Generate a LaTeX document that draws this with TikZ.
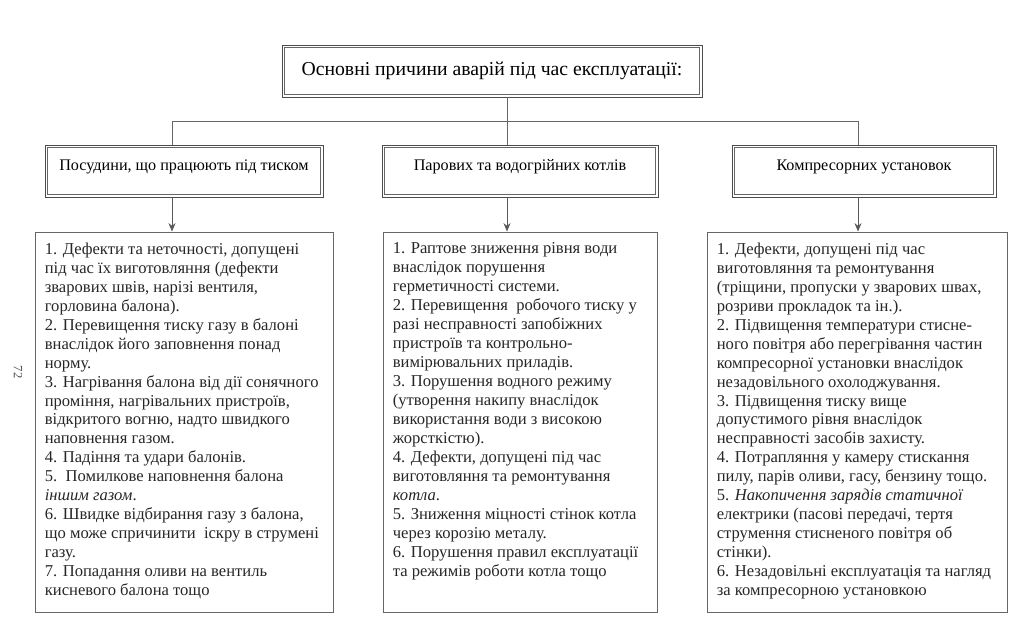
\documentclass[tikz,border=0pt]{standalone}
\usepackage{fontspec}
\setmainfont{Liberation Serif}
\usetikzlibrary{arrows.meta, positioning}

\begin{document}
\begin{tikzpicture}[
    x=0.025cm, y=-0.025cm,
    >={Stealth[length=6pt, width=5pt]},
    twoline/.style={draw=black!70, line width=0.6pt,
        path picture={\draw[black!60, line width=0.5pt] ([shift={(1.6pt,-1.6pt)}]path picture bounding box.north west) rectangle ([shift={(-1.6pt,1.6pt)}]path picture bounding box.south east);}},
    title/.style={twoline, minimum width=10.5cm, minimum height=1.3cm, font=\fontsize{14}{16}\selectfont},
    group/.style={twoline, minimum height=1.3cm, text height=0.3cm, text depth=0.35cm, font=\fontsize{11.5}{14}\selectfont},
    frame/.style={draw=black!60, line width=0.6pt, minimum height=9.5cm},
    causes/.style={anchor=north west, align=left, inner xsep=0.25cm, inner ysep=0.27cm, font=\fontsize{11.8}{13.5}\selectfont, text=black!85},
    link/.style={draw=black!60, line width=0.6pt},
    arr/.style={->, draw=black!65, line width=0.6pt}
]
\useasboundingbox (0,0) rectangle (1034,627);

% Головний блок
\node[title] (top) at (492,71) {Основні причини аварій під час експлуатації:};

% Групи
\node[group, minimum width=6.95cm] (vessels) at (184,171) {Посудини, що працюють під тиском};
\node[group, minimum width=6.9cm] (boilers) at (520,171) {Парових та водогрійних котлів};
\node[group, minimum width=6.6cm] (compressors) at (864,171) {Компресорних установок};

% Рамки з переліками
\node[frame, minimum width=7.45cm] (c1) at (184,422) {};
\node[frame, minimum width=6.85cm] (c2) at (520,422) {};
\node[frame, minimum width=7.5cm] (c3) at (857,422) {};

\node[causes] (t1) at (c1.north west) {1. Дефекти та неточності, допущені\\
під час їх виготовляння (дефекти\\
зварових швів, нарізі вентиля,\\
горловина балона).\\
2. Перевищення тиску газу в балоні\\
внаслідок його заповнення понад\\
норму.\\
3. Нагрівання балона від дії сонячного\\
проміння, нагрівальних пристроїв,\\
відкритого вогню, надто швидкого\\
наповнення газом.\\
4. Падіння та удари балонів.\\
5.\ \ Помилкове наповнення балона\\
\textit{іншим газом}.\\
6. Швидке відбирання газу з балона,\\
що може спричинити\ \ іскру в струмені\\
газу.\\
7. Попадання оливи на вентиль\\
кисневого балона тощо};

\node[causes] (t2) at (c2.north west) {1. Раптове зниження рівня води\\
внаслідок порушення\\
герметичності системи.\\
2. Перевищення\ \ робочого тиску у\\
разі несправності запобіжних\\
пристроїв та контрольно-\\
вимірювальних приладів.\\
3. Порушення водного режиму\\
(утворення накипу внаслідок\\
використання води з високою\\
жорсткістю).\\
4. Дефекти, допущені під час\\
виготовляння та ремонтування\\
\textit{котла}.\\
5. Зниження міцності стінок котла\\
через корозію металу.\\
6. Порушення правил експлуатації\\
та режимів роботи котла тощо};

\node[causes] (t3) at (c3.north west) {1. Дефекти, допущені під час\\
виготовляння та ремонтування\\
(тріщини, пропуски у зварових швах,\\
розриви прокладок та ін.).\\
2. Підвищення температури стисне-\\
ного повітря або перегрівання частин\\
компресорної установки внаслідок\\
незадовільного охолоджування.\\
3. Підвищення тиску вище\\
допустимого рівня внаслідок\\
несправності засобів захисту.\\
4. Потрапляння у камеру стискання\\
пилу, парів оливи, гасу, бензину тощо.\\
5. \textit{Накопичення зарядів статичної}\\
електрики (пасові передачі, тертя\\
струмення стисненого повітря об\\
стінки).\\
6. Незадовільні експлуатація та нагляд\\
за компресорною установкою};

% Сполучні лінії
\coordinate (jl) at (172,121);
\coordinate (jm) at (507,121);
\coordinate (jr) at (858,121);
\draw[link] (top.south -| jm) -- (jm |- boilers.north);
\draw[link] (jl) -- (jr);
\draw[link] (jl) -- (jl |- vessels.north);
\draw[link] (jr) -- (jr |- compressors.north);

\draw[arr] (vessels.south -| jl) -- (c1.north -| jl);
\draw[arr] (boilers.south -| jm) -- (c2.north -| jm);
\draw[arr] (compressors.south -| jr) -- (c3.north -| jr);

% Номер сторінки
\node[rotate=-90, font=\small, text=black!70] (pnum) at (18,372) {72};

\end{tikzpicture}
\end{document}
